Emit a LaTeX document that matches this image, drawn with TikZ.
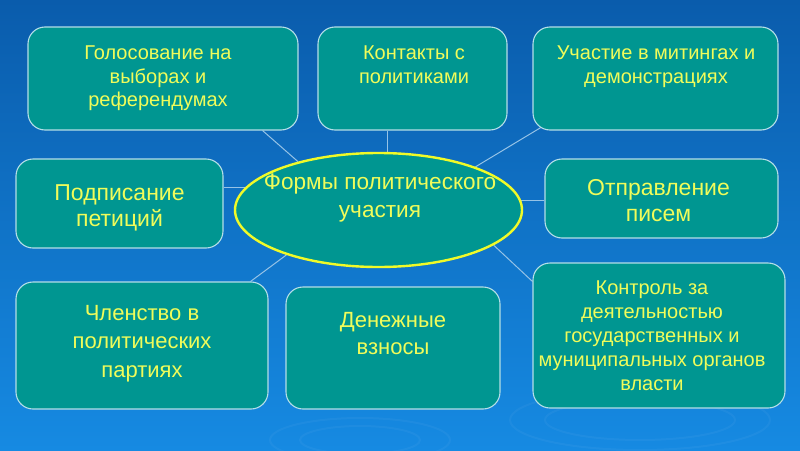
\documentclass[tikz,border=0pt]{standalone}
\usepackage{fontspec}
\setmainfont{Liberation Sans}
\usetikzlibrary{shapes.geometric}
\pgfdeclarelayer{bg}
\pgfdeclarelayer{lines}
\pgfsetlayers{bg,lines,main}
\definecolor{boxfill}{RGB}{0,150,145}
\definecolor{boxline}{RGB}{180,222,232}
\definecolor{txt}{RGB}{240,252,90}
\definecolor{bgtop}{RGB}{10,92,172}
\definecolor{bgmid}{RGB}{10,78,160}
\definecolor{bgbot}{RGB}{22,138,226}
\definecolor{conn}{RGB}{150,195,230}
\definecolor{ellline}{RGB}{240,250,40}
\begin{document}
\begin{tikzpicture}[x=1pt,y=-1pt,
  box/.style={draw=boxline, line width=1.1pt, fill=boxfill, rounded corners=17pt, inner sep=0pt},
  lbl/.style={text=txt, align=center, anchor=north, inner sep=0pt},
  conline/.style={draw=conn, line width=1pt}]
\useasboundingbox (0,0) rectangle (800,450);
\begin{pgfonlayer}{bg}
  \shade[top color=bgtop, middle color=bgmid, bottom color=bgbot] (0,0) rectangle (800,450);
  \draw[white, opacity=0.04, line width=2pt] (360,440) ellipse (90 and 22);
  \draw[white, opacity=0.04, line width=2pt] (360,440) ellipse (60 and 14);
  \draw[white, opacity=0.04, line width=2pt] (640,420) ellipse (130 and 30);
  \draw[white, opacity=0.04, line width=2pt] (640,420) ellipse (95 and 20);
\end{pgfonlayer}

% boxes
\node[box, minimum width=270pt, minimum height=103pt] (b1) at (163,78.5) {};
\node[box, minimum width=189pt, minimum height=103pt] (b2) at (412.5,78.5) {};
\node[box, minimum width=245pt, minimum height=103pt] (b3) at (655.5,78.5) {};
\node[box, minimum width=207pt, minimum height=89pt] (b4) at (119.5,203.5) {};
\node[box, minimum width=233pt, minimum height=79pt] (b5) at (661.5,198.5) {};
\node[box, minimum width=252pt, minimum height=127pt] (b6) at (142,345.5) {};
\node[box, minimum width=214pt, minimum height=122pt] (b7) at (393,348) {};
\node[box, minimum width=252pt, minimum height=145pt] (b8) at (659,335.5) {};
\node[ellipse, draw=ellline, line width=2.4pt, fill=boxfill, minimum width=287pt, minimum height=114pt, inner sep=0pt] (ell) at (378.5,210) {};

% texts
\node[lbl, font={\fontsize{20}{23.5}\selectfont}] (t1) at (158,46) {Голосование на\\выборах и\\референдумах};
\node[lbl, font={\fontsize{20}{24}\selectfont}] (t2) at (414,46) {Контакты с\\политиками};
\node[lbl, font={\fontsize{20}{24}\selectfont}] (t3) at (656,46) {Участие в митингах и\\демонстрациях};
\node[lbl, font={\fontsize{23}{26}\selectfont}] (t4) at (119.5,184.5) {Подписание\\петиций};
\node[lbl, font={\fontsize{23}{26}\selectfont}] (t5) at (658.5,179) {Отправление\\писем};
\node[lbl, font={\fontsize{22}{28.5}\selectfont}] (t6) at (142,305) {Членство в\\политических\\партиях};
\node[lbl, font={\fontsize{22}{27}\selectfont}] (t7) at (393,312) {Денежные\\взносы};
\node[lbl, font={\fontsize{20}{24}\selectfont}] (t8) at (652,281) {Контроль за\\деятельностью\\государственных и\\муниципальных органов\\власти};
\node[lbl, font={\fontsize{22.6}{28}\selectfont}] (t0) at (380,173.5) {Формы политического\\участия};

% connectors
\begin{pgfonlayer}{lines}
  \draw[conline] ([xshift=-36pt]b1.south east) -- (ell.149);
  \draw[conline] ([xshift=-25.5pt]b2.south) -- ([xshift=-25.5pt]b2.south |- ell.center);
  \draw[conline] ([xshift=10pt,yshift=4pt]b3.south west) -- (ell.24);
  \draw[conline] ([yshift=16.5pt]b4.east) -- ([yshift=16.5pt]b4.east -| ell.center);
  \draw[conline] ([yshift=-1.5pt]b5.west) -- ([yshift=-1.5pt]b5.west -| ell.center);
  \draw[conline] ([xshift=-18pt]b6.north east) -- (ell.206);
  \draw[conline] ([xshift=8.5pt]b7.north -| ell.center) -- ([xshift=-6pt]b7.north);
  \draw[conline] ([yshift=-19pt]b8.north west) -- (ell.343.5);
\end{pgfonlayer}
\end{tikzpicture}
\end{document}
